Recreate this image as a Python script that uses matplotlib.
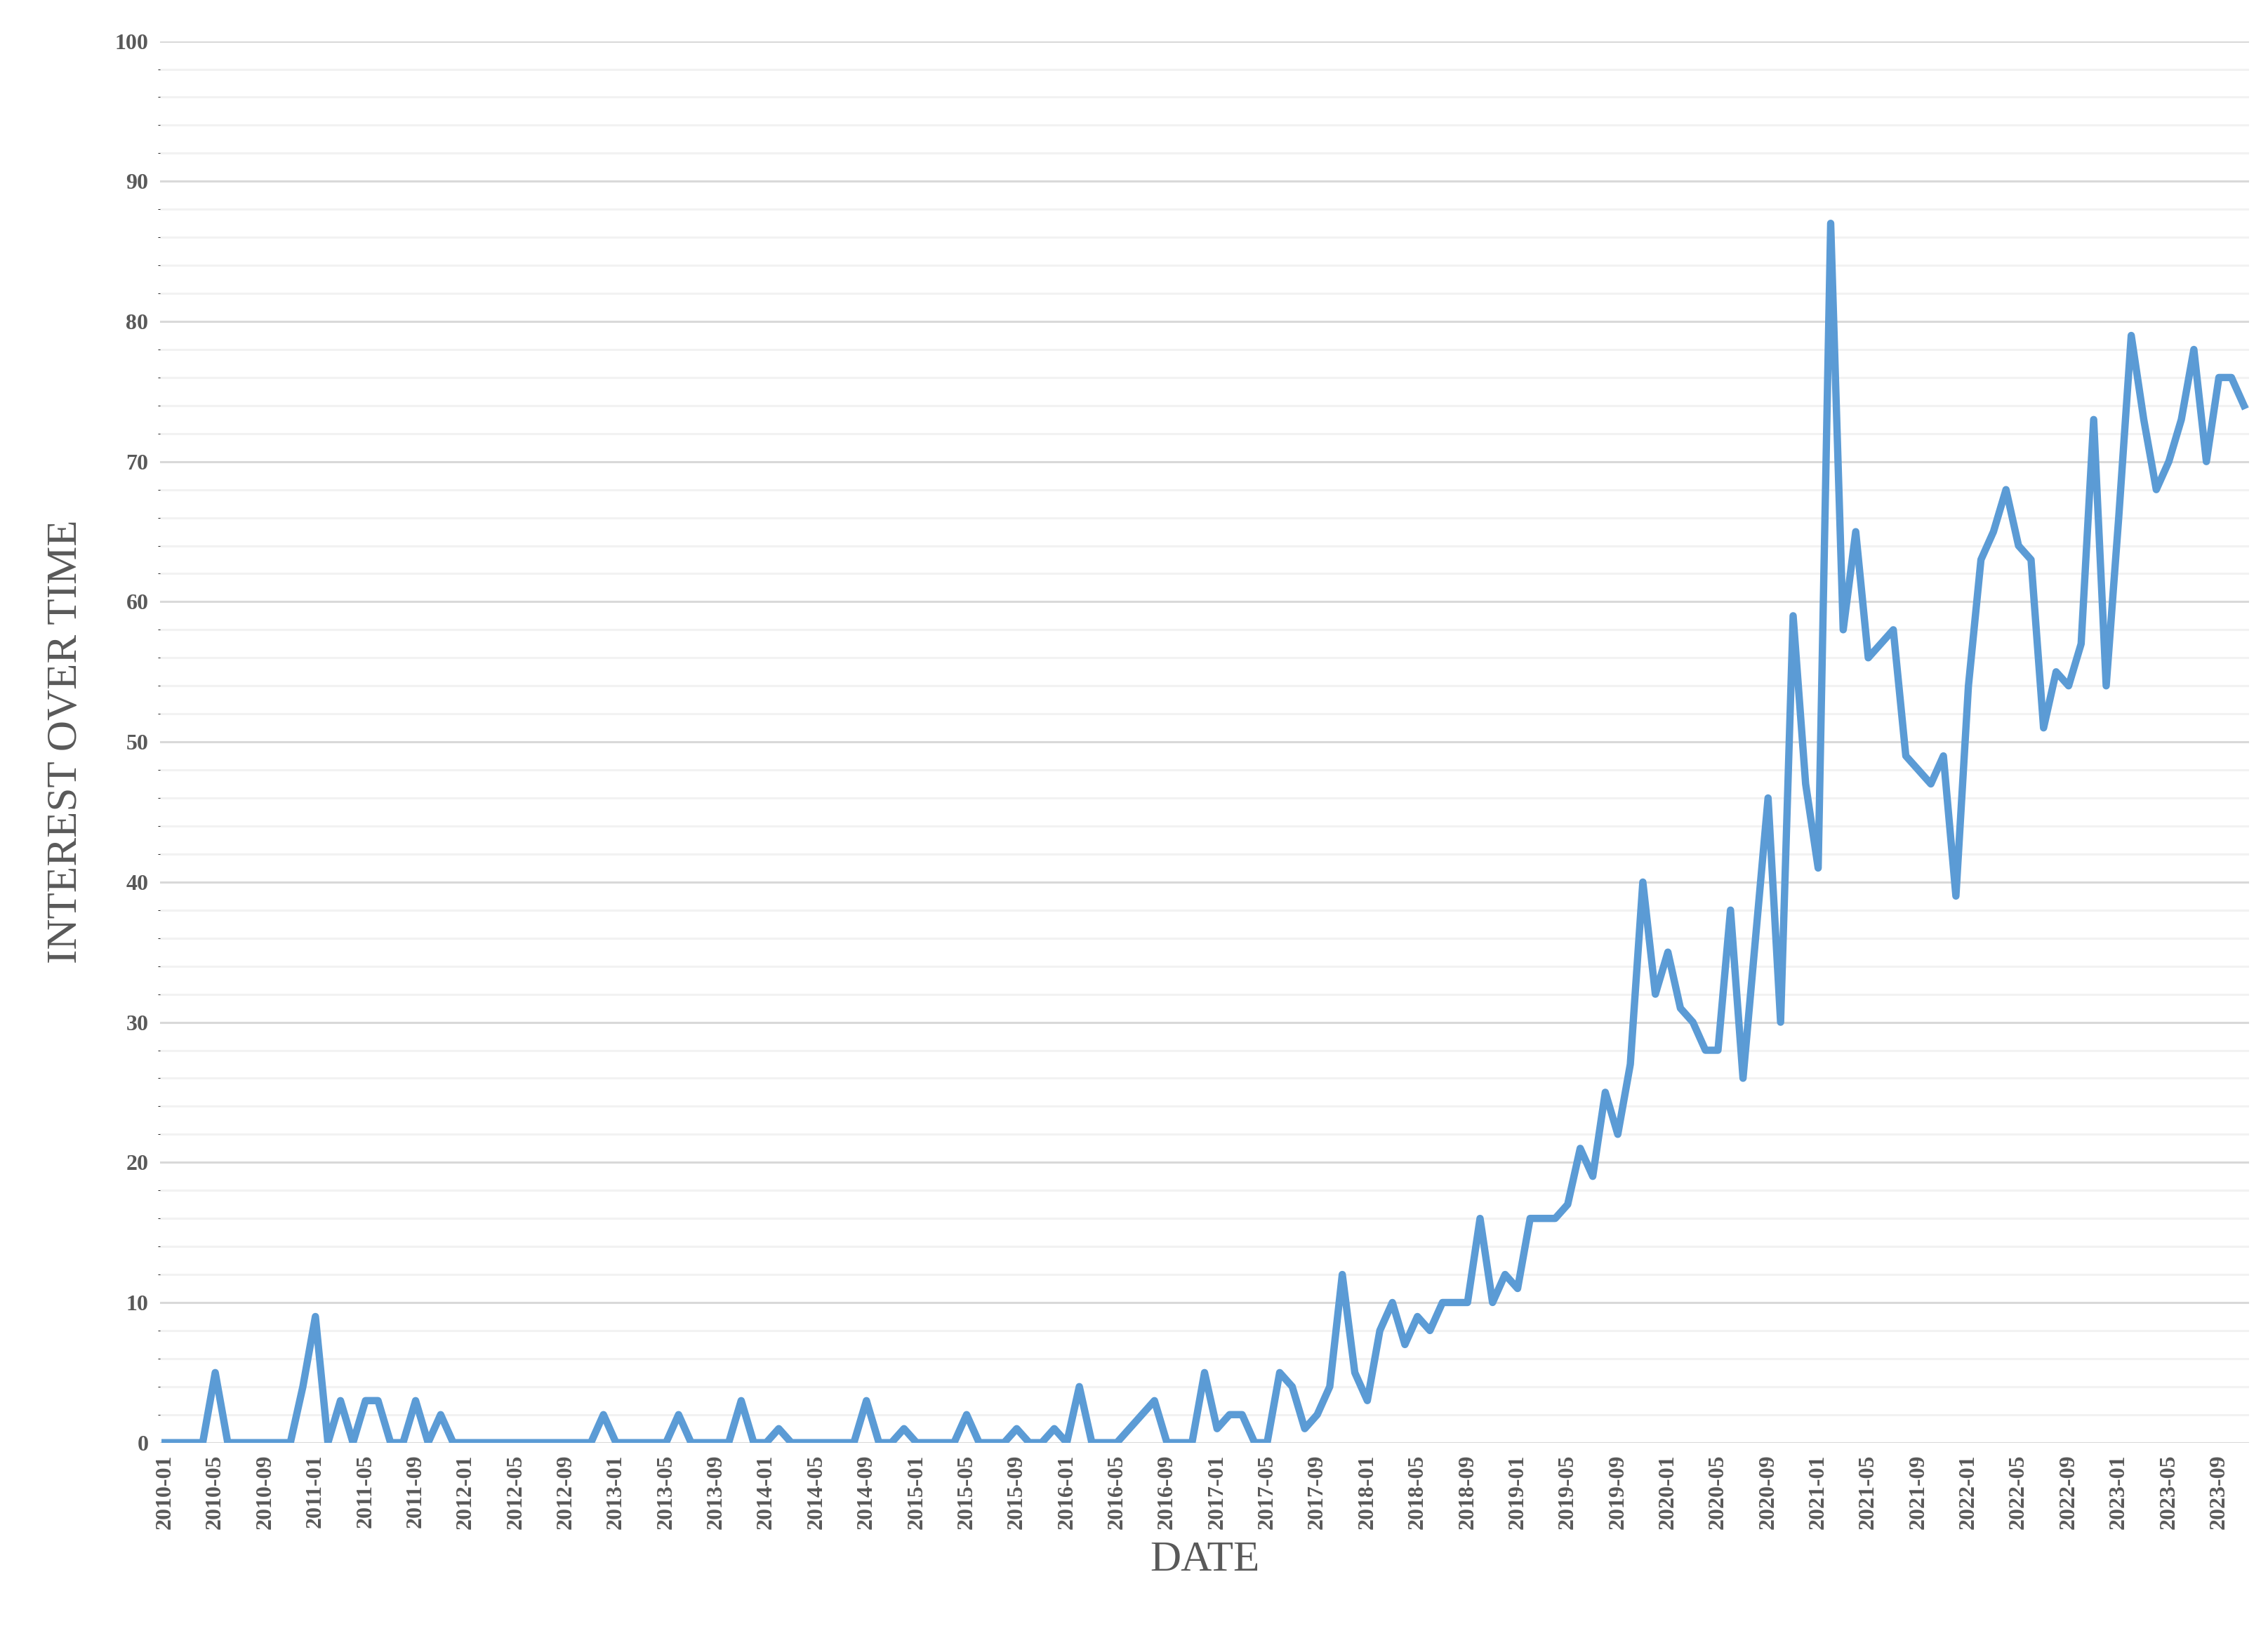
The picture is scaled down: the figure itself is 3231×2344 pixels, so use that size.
import matplotlib.pyplot as plt
import numpy as np
from matplotlib.ticker import MultipleLocator

plt.rcParams['font.family'] = ['Liberation Serif', 'DejaVu Serif']
plt.rcParams['font.weight'] = 'bold'

TEXT = '#595959'
LINE = '#5B9BD5'

# monthly values 2010-01 .. 2023-11
v2010 = [0, 0, 0, 0, 5, 0, 0, 0, 0, 0, 0, 4]
v2011 = [9, 0, 3, 0, 3, 3, 0, 0, 3, 0, 2, 0]
v2012 = [0, 0, 0, 0, 0, 0, 0, 0, 0, 0, 0, 2]
v2013 = [0, 0, 0, 0, 0, 2, 0, 0, 0, 0, 3, 0]
v2014 = [0, 1, 0, 0, 0, 0, 0, 0, 3, 0, 0, 1]
v2015 = [0, 0, 0, 0, 2, 0, 0, 0, 1, 0, 0, 1]
v2016 = [0, 4, 0, 0, 0, 1, 2, 3, 0, 0, 0, 5]
v2017 = [1, 2, 2, 0, 0, 5, 4, 1, 2, 4, 12, 5]
v2018 = [3, 8, 10, 7, 9, 8, 10, 10, 10, 16, 10, 12]
v2019 = [11, 16, 16, 16, 17, 21, 19, 25, 22, 27, 40, 32]
v2020 = [35, 31, 30, 28, 28, 38, 26, 36, 46, 30, 59, 47]
v2021 = [41, 87, 58, 65, 56, 57, 58, 49, 48, 47, 49, 39]
v2022 = [54, 63, 65, 68, 64, 63, 51, 55, 54, 57, 73, 54]
v2023 = [66, 79, 73, 68, 70, 73, 78, 70, 76, 76, 74]

values = v2010 + v2011 + v2012 + v2013 + v2014 + v2015 + v2016 + v2017 \
    + v2018 + v2019 + v2020 + v2021 + v2022 + v2023
months = [f'{2010 + i // 12}-{i % 12 + 1:02d}' for i in range(len(values))]

fig = plt.figure(figsize=(32.31, 23.44), dpi=100)
ax = fig.add_axes([0.0706, 0.123, 0.921, 0.852])

x = np.arange(len(values))
ax.plot(x, values, color=LINE, linewidth=7.5, zorder=3)

ax.set_ylim(0, 100)
ax.set_xlim(-0.4, len(values) - 0.6)
ax.yaxis.set_major_locator(MultipleLocator(10))
ax.yaxis.set_minor_locator(MultipleLocator(2))
ax.grid(axis='y', which='major', color='#D9D9D9', linewidth=2.2)
ax.grid(axis='y', which='minor', color='#F2F2F2', linewidth=2.2)
ax.set_axisbelow(True)

ax.set_xticks(x[::4])
ax.set_xticklabels(months[::4], rotation=90)
ax.tick_params(axis='both', length=0, labelsize=23, colors=TEXT, pad=12)
for s in ax.spines.values():
    s.set_visible(False)

ax.set_xlabel('DATE', fontsize=44, color=TEXT, labelpad=12)
ax.set_ylabel('INTEREST OVER TIME', fontsize=44, color=TEXT, labelpad=30)

fig.savefig('out.png', dpi=100)
